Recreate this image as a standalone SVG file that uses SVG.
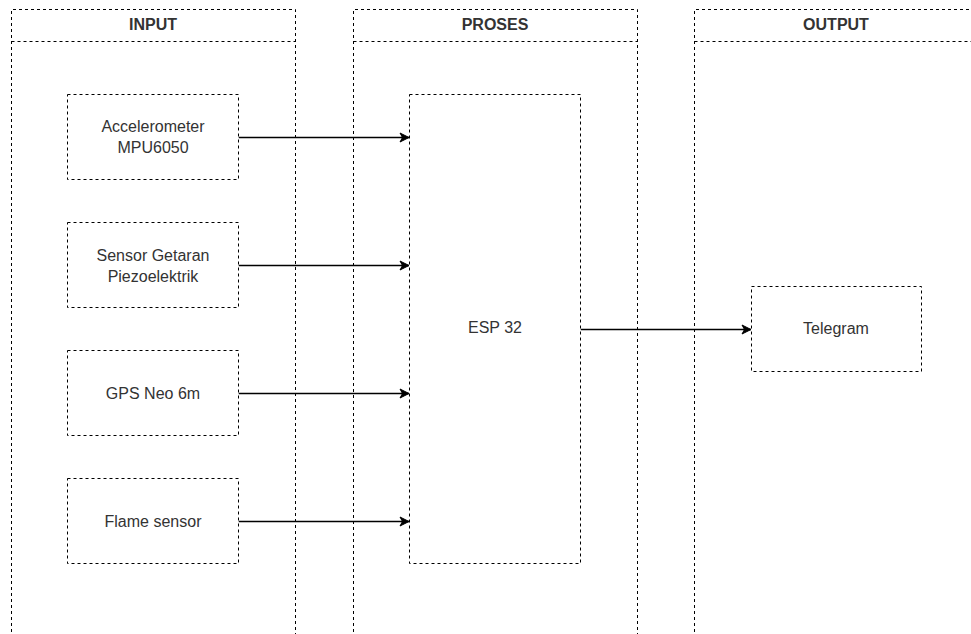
<svg xmlns="http://www.w3.org/2000/svg" width="971" height="634" viewBox="0 0 971 634">
<style>
.lane{fill:none;stroke:#000;stroke-width:1;stroke-dasharray:3 3}
.box{fill:#fff;stroke:#000;stroke-width:1;stroke-dasharray:3 3}
.t{font-family:"Liberation Sans",Arial,sans-serif;font-size:16px;fill:#333;text-anchor:middle}
.h{font-family:"Liberation Sans",Arial,sans-serif;font-size:16px;font-weight:bold;fill:#333;text-anchor:middle}
.c{fill:none;stroke:#000;stroke-width:1.3}
</style>
<defs>
<marker id="arr" markerWidth="12" markerHeight="12" refX="10" refY="6" orient="auto" markerUnits="userSpaceOnUse">
<path d="M1,1.5 L10,6 L1,10.5 L3.5,6 Z" fill="#000" stroke="#000" stroke-width="1"/>
</marker>
</defs>
<rect width="971" height="634" fill="#fff"/>
<g id="lane-input">
<path class="lane" d="M11.5,650 V9.5 H295.5 V650 M11.5,41.5 H295.5"/>
<text class="h" x="153" y="30">INPUT</text>
</g>
<g id="lane-proses">
<path class="lane" d="M353.5,650 V9.5 H637.5 V650 M353.5,41.5 H637.5"/>
<text class="h" x="495" y="30">PROSES</text>
</g>
<g id="lane-output">
<path class="lane" d="M694.5,650 V9.5 H990 M694.5,41.5 H990"/>
<text class="h" x="836" y="30">OUTPUT</text>
</g>
<g id="connectors">
<line class="c" x1="238.5" y1="137.5" x2="409" y2="137.5" marker-end="url(#arr)"/>
<line class="c" x1="238.5" y1="265.5" x2="409" y2="265.5" marker-end="url(#arr)"/>
<line class="c" x1="238.5" y1="393.5" x2="409" y2="393.5" marker-end="url(#arr)"/>
<line class="c" x1="238.5" y1="521.5" x2="409" y2="521.5" marker-end="url(#arr)"/>
<line class="c" x1="580.5" y1="329.5" x2="751" y2="329.5" marker-end="url(#arr)"/>
</g>
<g id="node-accel">
<rect class="box" x="67.5" y="94.5" width="171" height="85"/>
<text class="t" x="153" y="132">Accelerometer</text>
<text class="t" x="153" y="153">MPU6050</text>
</g>
<g id="node-piezo">
<rect class="box" x="67.5" y="222.5" width="171" height="85"/>
<text class="t" x="153" y="261">Sensor Getaran</text>
<text class="t" x="153" y="282">Piezoelektrik</text>
</g>
<g id="node-gps">
<rect class="box" x="67.5" y="350.5" width="171" height="85"/>
<text class="t" x="153" y="399">GPS Neo 6m</text>
</g>
<g id="node-flame">
<rect class="box" x="67.5" y="478.5" width="171" height="85"/>
<text class="t" x="153" y="527">Flame sensor</text>
</g>
<g id="node-esp">
<rect class="box" x="409.5" y="94.5" width="171" height="469"/>
<text class="t" x="495" y="333">ESP 32</text>
</g>
<g id="node-telegram">
<rect class="box" x="751.5" y="286.5" width="170" height="85"/>
<text class="t" x="836" y="334">Telegram</text>
</g>
</svg>
